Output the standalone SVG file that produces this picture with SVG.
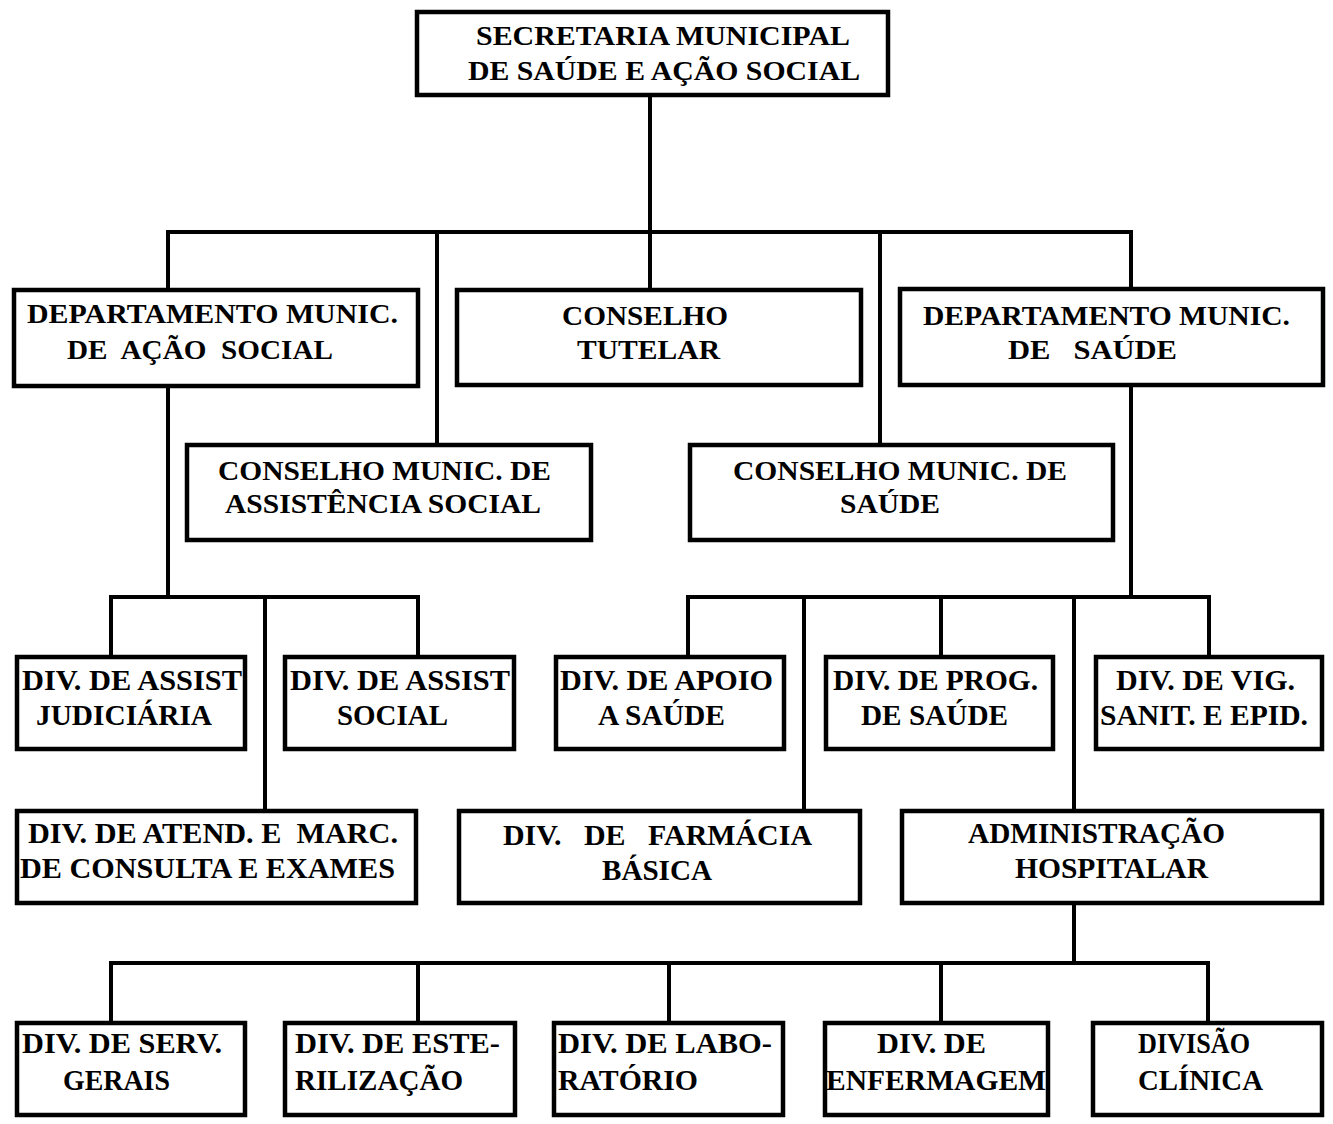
<svg xmlns="http://www.w3.org/2000/svg" width="1333" height="1124" viewBox="0 0 1333 1124">
<style>
.box{fill:#fff;stroke:#000;stroke-width:4.5}
.ln{stroke:#000;stroke-width:4;fill:none;stroke-linecap:square}
text{font-weight:bold;font-size:28px;fill:#000;white-space:pre}
.s{font-size:30px}
</style>
<rect width="1333" height="1124" fill="#fff"/>
<g id="connectors">
<path class="ln" d="M650 97V232M168 232H1131M168 232V288M437 232V443M650 232V288M880 232V443M1131 232V287"/>
<path class="ln" d="M168 388V597M111 597H418M111 597V655M265 597V809M418 597V655"/>
<path class="ln" d="M1131 387V597M688 597H1209M688 597V655M804 597V809M941 597V655M1074 597V809M1209 597V655"/>
<path class="ln" d="M1074 905V963M111 963H1208M111 963V1021M418 963V1021M669 963V1021M941 963V1021M1208 963V1021"/>
</g>
<g font-family="Liberation Serif, DejaVu Serif, serif">
<g id="secretaria"><rect class="box" x="417" y="12" width="471" height="83"/>
<text x="476" y="45" textLength="374" lengthAdjust="spacingAndGlyphs">SECRETARIA MUNICIPAL</text>
<text x="468" y="80" textLength="392" lengthAdjust="spacingAndGlyphs">DE SAÚDE E AÇÃO SOCIAL</text></g>
<g id="dep-acao-social"><rect class="box" x="14" y="290" width="404" height="96"/>
<text x="27" y="323" textLength="371" lengthAdjust="spacingAndGlyphs">DEPARTAMENTO MUNIC.</text>
<text x="67" y="359" textLength="266" lengthAdjust="spacingAndGlyphs">DE  AÇÃO  SOCIAL</text></g>
<g id="conselho-tutelar"><rect class="box" x="457" y="290" width="404" height="95"/>
<text x="562" y="325" textLength="166" lengthAdjust="spacingAndGlyphs">CONSELHO</text>
<text x="577" y="359" textLength="143" lengthAdjust="spacingAndGlyphs">TUTELAR</text></g>
<g id="dep-saude"><rect class="box" x="900" y="289" width="423" height="96"/>
<text x="923" y="325" textLength="367" lengthAdjust="spacingAndGlyphs">DEPARTAMENTO MUNIC.</text>
<text x="1008" y="359" textLength="169" lengthAdjust="spacingAndGlyphs">DE   SAÚDE</text></g>
<g id="conselho-assist"><rect class="box" x="187" y="445" width="404" height="95"/>
<text x="218" y="480" textLength="333" lengthAdjust="spacingAndGlyphs">CONSELHO MUNIC. DE</text>
<text x="225" y="513" textLength="316" lengthAdjust="spacingAndGlyphs">ASSISTÊNCIA SOCIAL</text></g>
<g id="conselho-saude"><rect class="box" x="690" y="445" width="423" height="95"/>
<text x="733" y="480" textLength="334" lengthAdjust="spacingAndGlyphs">CONSELHO MUNIC. DE</text>
<text x="840" y="513" textLength="100" lengthAdjust="spacingAndGlyphs">SAÚDE</text></g>
<g id="div-judiciaria"><rect class="box" x="17" y="657" width="228" height="92"/>
<text class="s" x="22" y="690" textLength="220" lengthAdjust="spacingAndGlyphs">DIV. DE ASSIST</text>
<text class="s" x="36" y="725" textLength="176" lengthAdjust="spacingAndGlyphs">JUDICIÁRIA</text></g>
<g id="div-assist-social"><rect class="box" x="285" y="657" width="229" height="92"/>
<text class="s" x="290" y="690" textLength="220" lengthAdjust="spacingAndGlyphs">DIV. DE ASSIST</text>
<text class="s" x="337" y="725" textLength="111" lengthAdjust="spacingAndGlyphs">SOCIAL</text></g>
<g id="div-apoio"><rect class="box" x="556" y="657" width="228" height="92"/>
<text class="s" x="560" y="690" textLength="213" lengthAdjust="spacingAndGlyphs">DIV. DE APOIO</text>
<text class="s" x="598" y="725" textLength="127" lengthAdjust="spacingAndGlyphs">A SAÚDE</text></g>
<g id="div-prog"><rect class="box" x="826" y="657" width="227" height="92"/>
<text class="s" x="833" y="690" textLength="205" lengthAdjust="spacingAndGlyphs">DIV. DE PROG.</text>
<text class="s" x="861" y="725" textLength="147" lengthAdjust="spacingAndGlyphs">DE SAÚDE</text></g>
<g id="div-vig"><rect class="box" x="1096" y="657" width="226" height="92"/>
<text class="s" x="1116" y="690" textLength="179" lengthAdjust="spacingAndGlyphs">DIV. DE VIG.</text>
<text class="s" x="1100" y="725" textLength="208" lengthAdjust="spacingAndGlyphs">SANIT. E EPID.</text></g>
<g id="div-atend"><rect class="box" x="17" y="811" width="399" height="92"/>
<text class="s" x="28" y="843" textLength="370" lengthAdjust="spacingAndGlyphs">DIV. DE ATEND. E  MARC.</text>
<text class="s" x="20" y="878" textLength="375" lengthAdjust="spacingAndGlyphs">DE CONSULTA E EXAMES</text></g>
<g id="div-farmacia"><rect class="box" x="459" y="811" width="401" height="92"/>
<text class="s" x="503" y="845" textLength="309" lengthAdjust="spacingAndGlyphs">DIV.   DE   FARMÁCIA</text>
<text class="s" x="602" y="880" textLength="110" lengthAdjust="spacingAndGlyphs">BÁSICA</text></g>
<g id="adm-hospitalar"><rect class="box" x="902" y="811" width="420" height="92"/>
<text class="s" x="968" y="843" textLength="257" lengthAdjust="spacingAndGlyphs">ADMINISTRAÇÃO</text>
<text class="s" x="1015" y="878" textLength="193" lengthAdjust="spacingAndGlyphs">HOSPITALAR</text></g>
<g id="div-serv-gerais"><rect class="box" x="17" y="1023" width="228" height="92"/>
<text class="s" x="22" y="1053" textLength="200" lengthAdjust="spacingAndGlyphs">DIV. DE SERV.</text>
<text class="s" x="63" y="1090" textLength="107" lengthAdjust="spacingAndGlyphs">GERAIS</text></g>
<g id="div-esterilizacao"><rect class="box" x="285" y="1023" width="230" height="92"/>
<text class="s" x="295" y="1053" textLength="205" lengthAdjust="spacingAndGlyphs">DIV. DE ESTE-</text>
<text class="s" x="295" y="1090" textLength="168" lengthAdjust="spacingAndGlyphs">RILIZAÇÃO</text></g>
<g id="div-laboratorio"><rect class="box" x="554" y="1023" width="229" height="92"/>
<text class="s" x="558" y="1053" textLength="214" lengthAdjust="spacingAndGlyphs">DIV. DE LABO-</text>
<text class="s" x="558" y="1090" textLength="140" lengthAdjust="spacingAndGlyphs">RATÓRIO</text></g>
<g id="div-enfermagem"><rect class="box" x="825" y="1023" width="223" height="92"/>
<text class="s" x="877" y="1053" textLength="109" lengthAdjust="spacingAndGlyphs">DIV. DE</text>
<text class="s" x="826" y="1090" textLength="220" lengthAdjust="spacingAndGlyphs">ENFERMAGEM</text></g>
<g id="divisao-clinica"><rect class="box" x="1093" y="1023" width="229" height="92"/>
<text class="s" x="1138" y="1053" textLength="112" lengthAdjust="spacingAndGlyphs">DIVISÃO</text>
<text class="s" x="1138" y="1090" textLength="125" lengthAdjust="spacingAndGlyphs">CLÍNICA</text></g>
</g>
</svg>
